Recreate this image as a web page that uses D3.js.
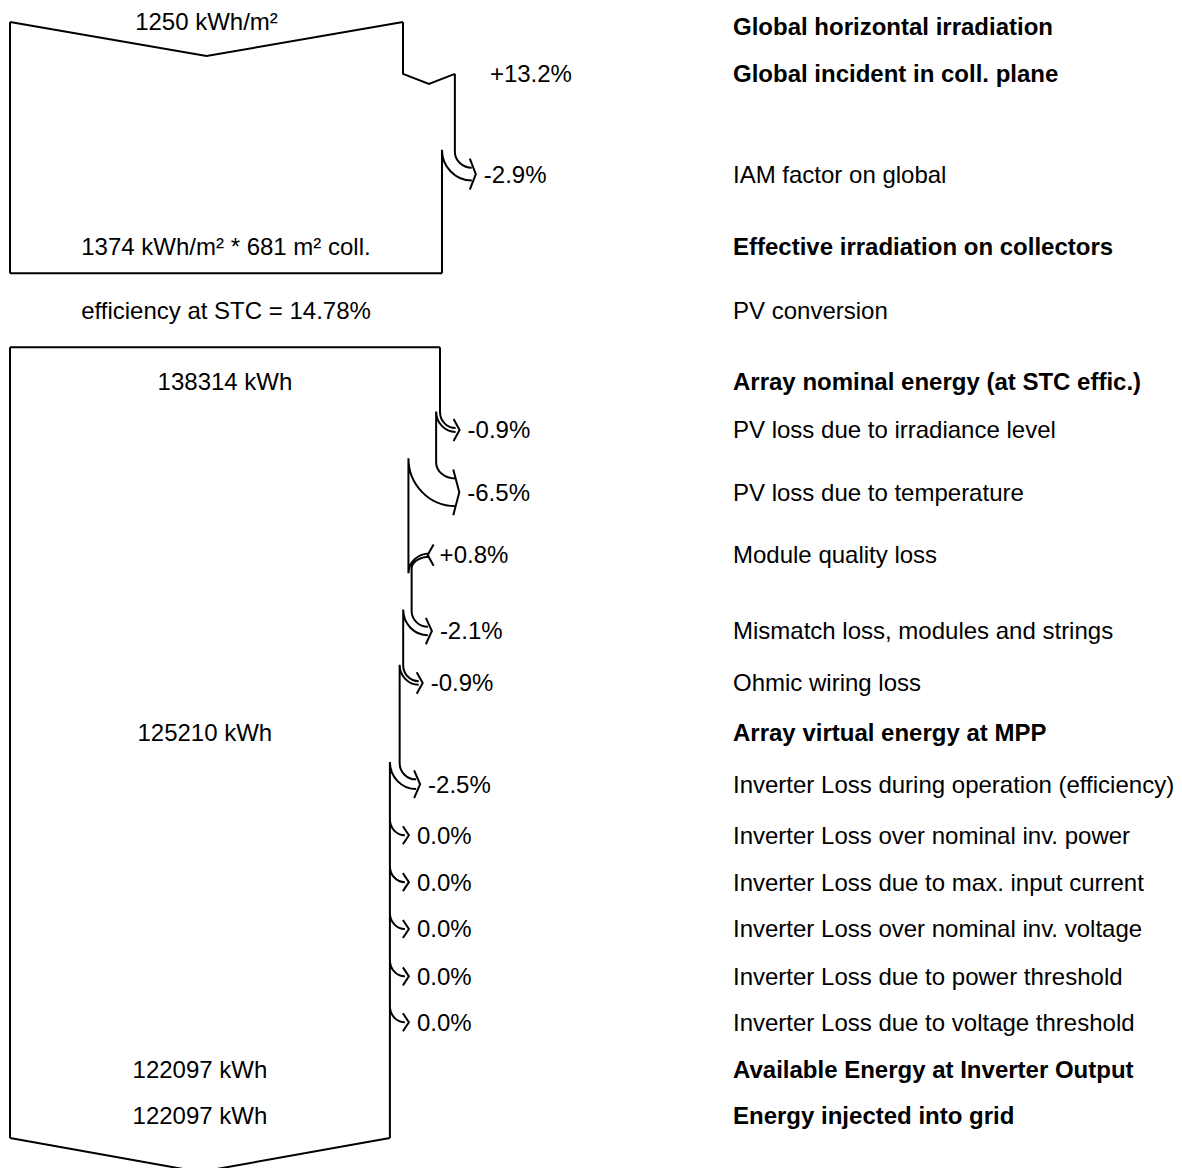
<!DOCTYPE html>
<html><head><meta charset="utf-8">
<script src="https://cdn.jsdelivr.net/npm/d3@7"></script>
<style>
body{margin:0;background:#fff}
text{font-family:"Liberation Sans",Arial,sans-serif;font-size:24px;fill:#000}
</style>
</head><body>
<svg id="chart" width="1182" height="1168"></svg>
<script>
// ---------------- DATA ----------------
const rowLabels = [
  "Global horizontal irradiation",
  "Global incident in coll. plane",
  "IAM factor on global",
  "Effective irradiation on collectors",
  "PV conversion",
  "Array nominal energy (at STC effic.)",
  "PV loss due to irradiance level",
  "PV loss due to temperature",
  "Module quality loss",
  "Mismatch loss, modules and strings",
  "Ohmic wiring loss",
  "Array virtual energy at MPP",
  "Inverter Loss during operation (efficiency)",
  "Inverter Loss over nominal inv. power",
  "Inverter Loss due to max. input current",
  "Inverter Loss over nominal inv. voltage",
  "Inverter Loss due to power threshold",
  "Inverter Loss due to voltage threshold",
  "Available Energy at Inverter Output",
  "Energy injected into grid"
];
const boldRows = [0, 1, 3, 5, 11, 18, 19];
const stepPercents = [null, 13.2, -2.9, null, null, null, -0.9, -6.5, 0.8, -2.1, -0.9, null, -2.5, 0.0, 0.0, 0.0, 0.0, 0.0, null, null];
const irradiationValues = [1250, 1374];          // kWh/m²
const collectorArea = 681;                       // m²
const stcEfficiency = 14.78;                     // %
const energyRows = [5, 11, 18, 19];
const energyTotals = [138314, 125210, 122097, 122097]; // kWh

// ---------------- LAYOUT ----------------
const rowUnits = [0, 1, 3.14, 4.68, 6.06, 7.56, 8.6, 9.93, 11.27, 12.89, 14.0, 15.05, 16.16, 17.25, 18.25, 19.25, 20.26, 21.24, 22.24, 23.24];
const y = d3.scaleLinear().domain([0, 23.24]).range([27, 1116]);
const xIrr = d3.scaleLinear().domain([0, irradiationValues[0]]).range([10, 403]);
const xEn = d3.scaleLinear().domain([0, energyTotals[0]]).range([10, 440]);
const labelX = 733;
const R = 16, VDEPTH = 34;

const svg = d3.select("#chart");
const gLines = svg.append("g").attr("fill", "none").attr("stroke", "#000")
  .attr("stroke-width", 2).attr("stroke-linejoin", "miter");
const gText = svg.append("g");

const fmtPct = v => (v > 0 ? "+" + v.toFixed(1) : v.toFixed(1)) + "%";
const fmtInt = d3.format("d");

// right-hand labels
gText.selectAll("text.lbl").data(rowLabels).join("text")
  .attr("class", "lbl")
  .attr("x", labelX)
  .attr("y", (d, i) => y(rowUnits[i]))
  .attr("dy", "0.35em")
  .style("font-weight", (d, i) => boldRows.includes(i) ? "bold" : "normal")
  .text(d => d);

function leftText(r) {
  if (r === 0) return fmtInt(irradiationValues[0]) + " kWh/m²";
  if (r === 3) return fmtInt(irradiationValues[1]) + " kWh/m² * " + collectorArea + " m² coll.";
  if (r === 4) return "efficiency at STC = " + stcEfficiency.toFixed(2) + "%";
  const k = energyRows.indexOf(r);
  if (k >= 0) return fmtInt(energyTotals[k]) + " kWh";
  return null;
}

function drawSection(cfg) {
  const x = cfg.x;
  let cur = cfg.start;
  const x0 = x(0);
  const xStart = x(cur);
  const paths = [];
  if (cfg.topV) paths.push(`M${x0},${cfg.top}L${(x0 + xStart) / 2},${cfg.top + VDEPTH}L${xStart},${cfg.top}`);
  else paths.push(`M${x0},${cfg.top}L${xStart},${cfg.top}`);
  let segStart = cfg.top;
  for (let r = cfg.first; r <= cfg.last; r++) {
    const lt = leftText(r);
    if (lt) {
      gText.append("text").attr("x", (x0 + x(cur)) / 2)
        .attr("y", y(rowUnits[r]) + (r === 0 ? -5 : 0)).attr("dy", "0.35em")
        .attr("text-anchor", "middle").text(lt);
    }
    const p = stepPercents[r];
    if (p == null) continue;
    const next = cur * (1 + p / 100);
    const xo = x(cur), xi = x(next), yc = y(rowUnits[r]);
    if (p > 0 && cfg.notch) {
      paths.push(`M${xo},${segStart}L${xo},${yc}L${(xo + xi) / 2},${yc + 10}L${xi},${yc}`);
      segStart = yc;
      gText.append("text").attr("x", xi + 35).attr("y", yc).attr("dy", "0.35em").text(fmtPct(p));
    } else if (p > 0) {
      const w = xi - xo;
      const xe = xi + 18;
      const rSmall = 12, rBig = rSmall + w * 1.15 + 4;
      const joinBig = yc - w / 2 + rBig, joinSmall = yc + w / 2 + rSmall;
      paths.push(`M${xo},${segStart}L${xo},${joinBig}`);
      paths.push(`M${xo},${joinBig}A${xe - xo},${rBig} 0 0 1 ${xe},${yc - w / 2}`);
      paths.push(`M${xi},${joinSmall}A${xe - xi},${rSmall} 0 0 1 ${xe},${yc + w / 2}`);
      paths.push(`M${xe + 4},${yc - w / 2 - 9}L${xe - 2},${yc}L${xe + 4},${yc + w / 2 + 9}`);
      segStart = joinSmall;
      gText.append("text").attr("x", xe + 10).attr("y", yc).attr("dy", "0.35em").text(fmtPct(p));
    } else {
      const w = xo - xi;
      const xe = xo + 15 + w * 0.15;
      const turnY = yc - w / 2 - R;
      const ri = R + w * 1.15;
      const innerStart = yc + w / 2 - ri;
      paths.push(`M${xo},${segStart}L${xo},${turnY}`);
      paths.push(`M${xo},${turnY}A${xe - xo},${R} 0 0 0 ${xe},${yc - w / 2}`);
      if (w > 0.5) paths.push(`M${xi},${innerStart}A${xe - xi},${ri} 0 0 0 ${xe},${yc + w / 2}`);
      paths.push(`M${xe - 2},${yc - w / 2 - 9}L${xe + 4},${yc}L${xe - 2},${yc + w / 2 + 9}`);
      segStart = w > 0.5 ? innerStart : segStart;
      gText.append("text").attr("x", xe + 12).attr("y", yc).attr("dy", "0.35em").text(fmtPct(p));
    }
    cur = next;
  }
  const xEnd = x(cur);
  paths.push(`M${xEnd},${segStart}L${xEnd},${cfg.bottom}`);
  if (cfg.bottomV) paths.push(`M${x0},${cfg.bottom}L${(x0 + xEnd) / 2},${cfg.bottom + VDEPTH}L${xEnd},${cfg.bottom}`);
  else paths.push(`M${x0},${cfg.bottom}L${xEnd},${cfg.bottom}`);
  paths.push(`M${x0},${cfg.top}L${x0},${cfg.bottom}`);
  gLines.append("path").attr("d", paths.join(""));
  return cur;
}

drawSection({ x: xIrr, start: irradiationValues[0], first: 0, last: 3,
  top: y(rowUnits[0]) - 5, bottom: y(rowUnits[3]) + 27, topV: true, bottomV: false, notch: true });
const effCur = irradiationValues[0] * (1 + stepPercents[1] / 100) * (1 + stepPercents[2] / 100);
gText.append("text").attr("x", (xIrr(0) + xIrr(effCur)) / 2).attr("y", y(rowUnits[4])).attr("dy", "0.35em")
  .attr("text-anchor", "middle").text(leftText(4));
drawSection({ x: xEn, start: energyTotals[0], first: 5, last: 19,
  top: y(rowUnits[5]) - 34, bottom: y(rowUnits[19]) + 22, topV: false, bottomV: true, notch: false });
</script>
</body></html>
